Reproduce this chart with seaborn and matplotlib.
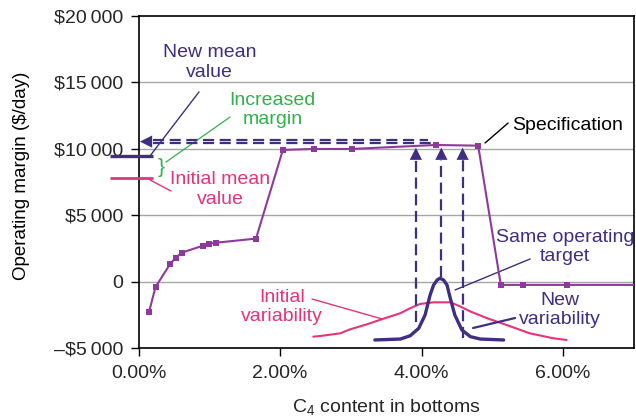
import matplotlib
matplotlib.use("Agg")
import matplotlib.pyplot as plt
import seaborn as sns
import pandas as pd

# Operating margin against C4 content in the bottoms product
c4_pct = [0.15, 0.24, 0.45, 0.53, 0.61, 0.91, 1.00, 1.09, 1.66, 2.04, 2.48,
          3.01, 4.20, 4.80, 5.12, 5.43, 6.05, 7.50]
margin = [-2230, -380, 1380, 1830, 2200, 2730, 2880, 2950, 3260, 9930, 10000,
          10000, 10300, 10250, -220, -220, -220, -220]

# Wide distribution of C4 content before improvement
init_dist_x = [2.47, 2.57, 2.85, 2.99, 3.23, 3.44, 3.70, 3.84, 3.98, 4.17,
               4.41, 4.55, 4.69, 4.93, 5.20, 5.53, 5.86, 6.05]
init_dist_y = [-4110, -4060, -3860, -3560, -3180, -2800, -2350, -1970, -1650,
               -1530, -1530, -1850, -2220, -2730, -3230, -3860, -4230, -4360]

# Narrow distribution after improvement, same operating target
new_dist_x = [3.34, 3.70, 3.84, 3.96, 4.05, 4.12, 4.17, 4.22, 4.26, 4.31,
              4.36, 4.40, 4.47, 4.57, 4.69, 4.83, 5.16]
new_dist_y = [-4360, -4290, -4040, -3480, -2480, -990, -230, 150, 280, 150,
              -230, -1100, -2480, -3610, -4110, -4290, -4360]

initial_mean = 7800
new_mean = 9500

# Vertical projection lines from the narrow distribution to the curve
proj_x = [3.92, 4.28, 4.58]
proj_bottom = [-3000, 350, -4200]
proj_top = 9170
proj_tip = 10100

# Horizontal projection lines back to the margin axis
back_y = [10680, 10430]
back_x_end = [4.09, 4.16]
back_x_start = 0.205
back_tip_x = 0.02

x_ticks = [0, 2, 4, 6]
x_tick_labels = ["0.00%", "2.00%", "4.00%", "6.00%"]
y_ticks = [-5000, 0, 5000, 10000, 15000, 20000]
y_tick_labels = ["\u2013$5\u2009000", "0", "$5\u2009000", "$10\u2009000",
                 "$15\u2009000", "$20\u2009000"]

PURPLE = "#8E3A9C"
DARK = "#3F2E82"
PINK = "#E6337B"
GREEN = "#2FB24A"

sns.set_theme(style="white")
plt.rcParams["font.family"] = ["Liberation Sans", "DejaVu Sans"]
plt.rcParams["mathtext.fontset"] = "custom"
plt.rcParams["mathtext.rm"] = "Liberation Sans"

fig = plt.figure(figsize=(6.36, 4.19), dpi=100)
ax = fig.add_axes([0.2178, 0.1683, 0.7788, 0.7936])

ax.set_xlim(0, 7)
ax.set_ylim(-5000, 20000)

# grid
for yv in [0, 5000, 10000, 15000]:
    ax.axhline(yv, color="#A6A6A6", lw=1.0, zorder=0)

# distributions
sns.lineplot(x=init_dist_x, y=init_dist_y, ax=ax, color=PINK, lw=1.5,
             estimator=None, sort=False, zorder=2)
sns.lineplot(x=new_dist_x, y=new_dist_y, ax=ax, color=DARK, lw=2.4,
             estimator=None, sort=False, zorder=3)
ax.lines[-1].set_solid_joinstyle("round")

# main margin curve
df = pd.DataFrame({"c4": c4_pct, "margin": margin})
sns.lineplot(data=df, x="c4", y="margin", ax=ax, color=PURPLE, lw=1.5,
             marker="s", markersize=5, markeredgewidth=0, estimator=None,
             sort=False, zorder=4)

dash = (0, (5, 2.5))
# vertical projections with arrowheads
for px, pb in zip(proj_x, proj_bottom):
    ax.plot([px, px], [pb, proj_top], color=DARK, lw=1.6, ls=dash, zorder=3)
    ax.annotate("", xy=(px, proj_tip), xytext=(px, proj_top),
                arrowprops=dict(arrowstyle="-|>", color=DARK, lw=0,
                                mutation_scale=22, shrinkA=0, shrinkB=0),
                zorder=5)

# horizontal projections to the margin axis
for by, bx in zip(back_y, back_x_end):
    ax.plot([back_x_start, bx], [by, by], color=DARK, lw=1.6, ls=dash, zorder=3)
ax.annotate("", xy=(back_tip_x, sum(back_y) / 2),
            xytext=(back_x_start, sum(back_y) / 2),
            arrowprops=dict(arrowstyle="-|>", color=DARK, lw=0,
                            mutation_scale=22, shrinkA=0, shrinkB=0),
            zorder=5, annotation_clip=False)

# mean value markers on the margin axis
ax.plot([-0.40, 0.205], [new_mean, new_mean], color=DARK, lw=2.4,
        clip_on=False, zorder=5, solid_capstyle="butt")
ax.plot([-0.40, 0.205], [initial_mean, initial_mean], color=PINK, lw=2.0,
        clip_on=False, zorder=5, solid_capstyle="butt")

fs = 14
# labels with leader lines
ax.text(1.00, 16500, "New mean\nvalue", color=DARK, fontsize=fs,
        ha="center", va="center")
ax.plot([0.855, 0.163], [14290, 9480], color=DARK, lw=1.0)

ax.text(1.89, 12930, "Increased\nmargin", color=GREEN, fontsize=fs,
        ha="center", va="center")
ax.plot([1.293, 0.389], [12400, 9020], color=GREEN, lw=0.9)
ax.text(0.318, 8600, "}", color=GREEN, fontsize=15, ha="center", va="center")

ax.text(1.15, 6950, "Initial mean\nvalue", color=PINK, fontsize=fs,
        ha="center", va="center")
ax.plot([0.459, 0.163], [6840, 7670], color=PINK, lw=1.0)

ax.text(6.06, 11800, "Specification", color="black", fontsize=fs,
        ha="center", va="center")
ax.plot([4.898, 5.223], [10450, 11950], color="black", lw=1.0)

ax.text(6.03, 2630, "Same operating\ntarget", color=DARK, fontsize=fs,
        ha="center", va="center")
ax.plot([5.534, 4.474], [1730, -600], color=DARK, lw=1.0)

ax.text(5.96, -2100, "New\nvariability", color=DARK, fontsize=fs,
        ha="center", va="center")
ax.plot([5.321, 4.728], [-2710, -3460], color=DARK, lw=1.6)

ax.text(2.03, -1880, "Initial\nvariability", color=PINK, fontsize=fs,
        ha="center", va="center")
ax.plot([2.452, 3.442], [-1280, -2780], color=PINK, lw=1.0)

# axes styling
ax.set_xticks(x_ticks)
ax.set_xticklabels(x_tick_labels)
ax.set_yticks(y_ticks)
ax.set_yticklabels(y_tick_labels)
ax.tick_params(axis="both", which="major", labelsize=fs, direction="out",
               length=6, width=1, color="black", bottom=True, left=True,
               pad=5)
ax.tick_params(axis="x", pad=6)
for s in ax.spines.values():
    s.set_visible(True)
    s.set_color("black")
    s.set_linewidth(1.2)

ax.set_xlabel("C$_{\\mathregular{4}}$ content in bottoms", fontsize=fs,
              labelpad=11)
ax.set_ylabel("")
fig.text(21.7 / 636, 1 - 176 / 419, "Operating margin ($/day)", fontsize=13.5,
         rotation=90, ha="center", va="center", color="black")

fig.savefig("out.png", dpi=100)
